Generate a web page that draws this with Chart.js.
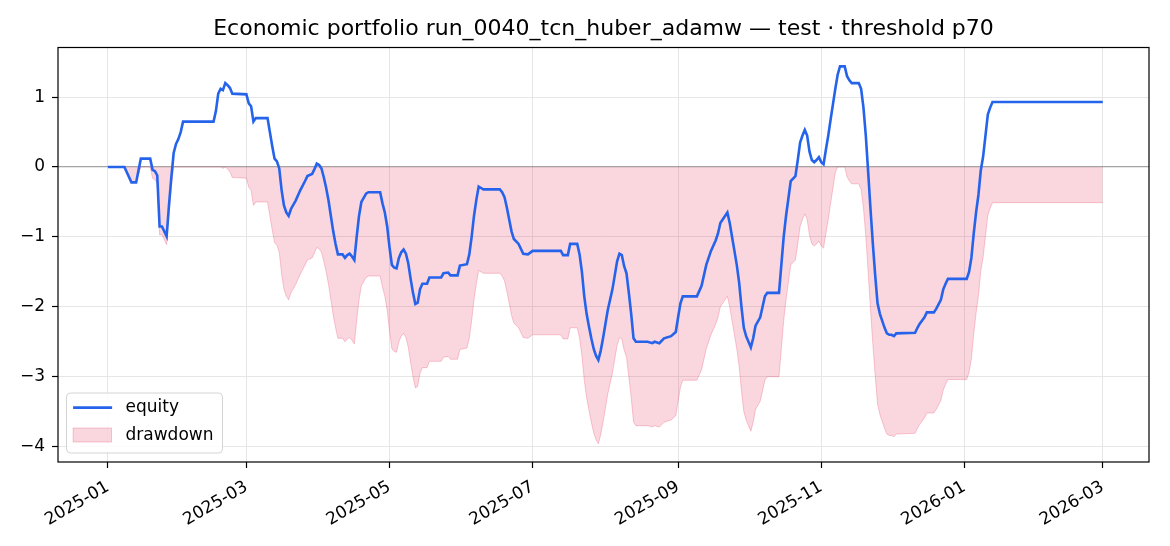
<!DOCTYPE html>
<html><head><meta charset="utf-8">
<script src="https://cdn.jsdelivr.net/npm/chart.js@4.4.1/dist/chart.umd.min.js"></script>
<style>html,body{margin:0;padding:0;background:#fff}#wrap{width:1170px;height:546px}</style>
</head><body><div id="wrap"><canvas id="c" width="1170" height="546"></canvas></div>
<script>
const titleText = 'Economic portfolio run_0040_tcn_huber_adamw \u2014 test \u00b7 threshold p70';
const startDate = '2025-01-01';
const seriesLabels = ['equity', 'drawdown'];

// day offsets from startDate
const dayIndex = [
  0,7,10,12,14,18,19,20,21,22,
  23,25,26,27,28,29,30,31,32,45,
  46,47,48,49,50,51,52,53,59,60,
  61,62,63,68,69,70,71,72,73,74,
  75,76,77,78,80,82,84,85,87,88,
  89,90,91,92,93,94,95,96,97,98,
  100,101,102,103,104,105,106,107,108,109,
  110,111,116,117,118,119,120,121,122,123,
  124,125,126,127,128,129,130,131,132,133,
  134,136,137,142,143,145,146,149,150,153,
  154,155,156,157,158,159,160,167,168,169,
  170,171,172,173,175,177,179,181,193,194,
  196,197,200,201,202,203,204,205,206,207,
  208,209,210,211,212,213,214,215,216,217,
  218,219,220,221,222,223,224,225,230,232,
  233,235,237,240,242,243,244,245,251,253,
  255,257,259,260,261,263,264,265,266,267,
  268,269,270,271,272,274,275,276,278,279,
  280,281,286,287,288,289,290,291,293,294,
  295,296,297,298,299,300,301,302,303,304,
  305,306,307,308,309,310,311,312,314,315,
  316,317,320,321,322,323,324,325,326,327,
  328,329,330,331,332,333,334,335,336,344,
  345,346,348,349,352,353,355,356,357,358,
  366,367,368,369,370,371,372,373,374,375,
  376,377,424
];

const equity = [
  0,0,-0.22,-0.22,0.12,0.12,-0.04,-0.06,-0.12,-0.85,
  -0.85,-0.99,-0.55,-0.15,0.2,0.33,0.4,0.5,0.65,0.65,
  0.8,1.05,1.12,1.1,1.2,1.17,1.13,1.05,1.04,0.91,
  0.87,0.65,0.7,0.7,0.5,0.3,0.12,0.08,-0.02,-0.33,
  -0.55,-0.65,-0.7,-0.6,-0.48,-0.33,-0.2,-0.13,-0.1,-0.03,
  0.05,0.03,-0.02,-0.15,-0.3,-0.48,-0.7,-0.92,-1.1,-1.25,
  -1.25,-1.3,-1.26,-1.24,-1.28,-1.33,-1.0,-0.7,-0.5,-0.44,
  -0.38,-0.36,-0.36,-0.52,-0.65,-0.85,-1.15,-1.4,-1.44,-1.45,
  -1.3,-1.22,-1.18,-1.24,-1.38,-1.6,-1.8,-1.96,-1.94,-1.75,
  -1.67,-1.67,-1.58,-1.58,-1.52,-1.51,-1.55,-1.55,-1.41,-1.39,
  -1.25,-1.0,-0.7,-0.47,-0.28,-0.3,-0.32,-0.32,-0.36,-0.43,
  -0.58,-0.75,-0.92,-1.03,-1.1,-1.24,-1.25,-1.2,-1.2,-1.26,
  -1.26,-1.1,-1.1,-1.25,-1.5,-1.85,-2.1,-2.28,-2.45,-2.6,
  -2.7,-2.76,-2.63,-2.45,-2.25,-2.05,-1.9,-1.75,-1.55,-1.35,
  -1.24,-1.26,-1.42,-1.52,-1.8,-2.1,-2.45,-2.5,-2.5,-2.52,
  -2.5,-2.52,-2.45,-2.42,-2.36,-2.15,-1.95,-1.85,-1.85,-1.7,
  -1.4,-1.2,-1.05,-0.95,-0.8,-0.7,-0.65,-0.8,-1.0,-1.2,
  -1.4,-1.65,-2.0,-2.3,-2.42,-2.58,-2.45,-2.27,-2.15,-2.0,
  -1.85,-1.8,-1.8,-1.4,-1.0,-0.7,-0.45,-0.2,-0.13,0.1,
  0.35,0.45,0.53,0.45,0.22,0.1,0.07,0.1,0.14,0.07,
  0.04,0.25,0.45,0.68,0.9,1.12,1.32,1.44,1.44,1.3,
  1.24,1.2,1.2,1.12,0.85,0.45,-0.07,-0.6,-1.1,-1.55,
  -1.95,-2.1,-2.2,-2.3,-2.38,-2.4,-2.4,-2.42,-2.38,-2.37,
  -2.3,-2.24,-2.15,-2.08,-2.08,-2.03,-1.9,-1.75,-1.67,-1.6,
  -1.6,-1.5,-1.3,-0.95,-0.65,-0.4,-0.05,0.15,0.45,0.75,
  0.85,0.93,0.93
];

const drawdown = [
  0,0,-0.22,-0.22,0,0,-0.16,-0.18,-0.24,-0.97,
  -0.97,-1.11,-0.67,-0.27,0,0,0,0,0,0,
  0,0,0,-0.02,0,-0.03,-0.07,-0.15,-0.16,-0.29,
  -0.33,-0.55,-0.5,-0.5,-0.7,-0.9,-1.08,-1.12,-1.22,-1.53,
  -1.75,-1.85,-1.9,-1.8,-1.68,-1.53,-1.4,-1.33,-1.3,-1.23,
  -1.15,-1.17,-1.22,-1.35,-1.5,-1.68,-1.9,-2.12,-2.3,-2.45,
  -2.45,-2.5,-2.46,-2.44,-2.48,-2.53,-2.2,-1.9,-1.7,-1.64,
  -1.58,-1.56,-1.56,-1.72,-1.85,-2.05,-2.35,-2.6,-2.64,-2.65,
  -2.5,-2.42,-2.38,-2.44,-2.58,-2.8,-3.0,-3.16,-3.14,-2.95,
  -2.87,-2.87,-2.78,-2.78,-2.72,-2.71,-2.75,-2.75,-2.61,-2.59,
  -2.45,-2.2,-1.9,-1.67,-1.48,-1.5,-1.52,-1.52,-1.56,-1.63,
  -1.78,-1.95,-2.12,-2.23,-2.3,-2.44,-2.45,-2.4,-2.4,-2.46,
  -2.46,-2.3,-2.3,-2.45,-2.7,-3.05,-3.3,-3.48,-3.65,-3.8,
  -3.9,-3.96,-3.83,-3.65,-3.45,-3.25,-3.1,-2.95,-2.75,-2.55,
  -2.44,-2.46,-2.62,-2.72,-3.0,-3.3,-3.65,-3.7,-3.7,-3.72,
  -3.7,-3.72,-3.65,-3.62,-3.56,-3.35,-3.15,-3.05,-3.05,-2.9,
  -2.6,-2.4,-2.25,-2.15,-2.0,-1.9,-1.85,-2.0,-2.2,-2.4,
  -2.6,-2.85,-3.2,-3.5,-3.62,-3.78,-3.65,-3.47,-3.35,-3.2,
  -3.05,-3.0,-3.0,-2.6,-2.2,-1.9,-1.65,-1.4,-1.33,-1.1,
  -0.85,-0.75,-0.67,-0.75,-0.98,-1.1,-1.13,-1.1,-1.06,-1.13,
  -1.16,-0.95,-0.75,-0.52,-0.3,-0.08,0,0,0,-0.14,
  -0.2,-0.24,-0.24,-0.32,-0.59,-0.99,-1.51,-2.04,-2.54,-2.99,
  -3.39,-3.54,-3.64,-3.74,-3.82,-3.84,-3.84,-3.86,-3.82,-3.81,
  -3.74,-3.68,-3.59,-3.52,-3.52,-3.47,-3.34,-3.19,-3.11,-3.04,
  -3.04,-2.94,-2.74,-2.39,-2.09,-1.84,-1.49,-1.29,-0.99,-0.69,
  -0.59,-0.51,-0.51
];

const xTickLabels = ['2025-01','2025-03','2025-05','2025-07','2025-09','2025-11','2026-01','2026-03'];
const yTickValues = [-4, -3, -2, -1, 0, 1];
const yTickLabels = ['\u22124', '\u22123', '\u22122', '\u22121', '0', '1'];

function dayOf(label) {
  const [y, m] = label.split('-').map(Number);
  const s = startDate.split('-').map(Number);
  return (Date.UTC(y, m - 1, 1) - Date.UTC(s[0], s[1] - 1, s[2])) / 86400000;
}
const xTickDays = xTickLabels.map(dayOf);

const eqColor = '#2563eb';
const ddFill = 'rgba(225,29,72,0.18)';
const ddEdge = 'rgba(225,29,72,0.22)';

Chart.defaults.font.family = '"DejaVu Sans", sans-serif';
Chart.defaults.color = '#000';

const framePlugin = {
  id: 'frame',
  beforeDraw(chart) {
    const ctx = chart.ctx;
    ctx.save();
    ctx.fillStyle = '#fff';
    ctx.fillRect(0, 0, chart.width, chart.height);
    ctx.restore();
  },
  afterDraw(chart) {
    const ctx = chart.ctx, a = chart.chartArea;
    ctx.save();
    // legend
    ctx.font = '17px "DejaVu Sans"';
    const tw = Math.max(...seriesLabels.map(t => ctx.measureText(t).width));
    const bw = 59 + tw + 9, bh = 60;
    const bx = a.left + 8.5, by = a.bottom - 9 - bh;
    ctx.beginPath();
    if (ctx.roundRect) ctx.roundRect(bx, by, bw, bh, 4); else ctx.rect(bx, by, bw, bh);
    ctx.fillStyle = 'rgba(255,255,255,0.85)';
    ctx.fill();
    ctx.strokeStyle = '#d4d4d4';
    ctx.lineWidth = 1;
    ctx.stroke();
    const ds = chart.data.datasets;
    ctx.strokeStyle = ds[0].borderColor;
    ctx.lineWidth = ds[0].borderWidth;
    ctx.beginPath();
    ctx.moveTo(bx + 6.6, by + 14.6);
    ctx.lineTo(bx + 45.6, by + 14.6);
    ctx.stroke();
    ctx.fillStyle = ds[1].backgroundColor;
    ctx.fillRect(bx + 6.6, by + 35, 38.4, 14);
    ctx.strokeStyle = ds[1].borderColor;
    ctx.lineWidth = 1;
    ctx.strokeRect(bx + 6.6, by + 35, 38.4, 14);
    ctx.fillStyle = '#000';
    ctx.textBaseline = 'middle';
    ctx.textAlign = 'left';
    ctx.fillText(ds[0].label, bx + 59, by + 15);
    ctx.fillText(ds[1].label, bx + 59, by + 42.5);
    // spines
    ctx.strokeStyle = '#000';
    ctx.lineWidth = 1.2;
    ctx.strokeRect(a.left, a.top, a.right - a.left, a.bottom - a.top);
    ctx.restore();
  }
};

new Chart(document.getElementById('c'), {
  type: 'line',
  data: {
    datasets: [
      {
        label: seriesLabels[0],
        data: dayIndex.map((d, i) => ({ x: d, y: equity[i] })),
        borderColor: eqColor,
        backgroundColor: eqColor,
        borderWidth: 2.6,
        pointRadius: 0,
        tension: 0,
        fill: false
      },
      {
        label: seriesLabels[1],
        data: dayIndex.map((d, i) => ({ x: d, y: drawdown[i] })),
        borderColor: ddEdge,
        backgroundColor: ddFill,
        borderWidth: 1,
        pointRadius: 0,
        tension: 0,
        fill: 'origin'
      }
    ]
  },
  options: {
    responsive: false,
    animation: false,
    devicePixelRatio: 1,
    layout: { padding: { left: 0, right: 21, top: 0, bottom: 0 } },
    plugins: {
      legend: { display: false },
      tooltip: { enabled: false },
      title: {
        display: true, text: titleText, color: '#000', fullSize: false,
        font: { size: 22, weight: 'normal' },
        padding: { top: 16.5, bottom: 4.6 }
      }
    },
    scales: {
      x: {
        type: 'linear', min: -21.3, max: 443.7,
        afterBuildTicks: s => { s.ticks = xTickDays.map(v => ({ value: v })); },
        afterFit: s => { s.height = 84; },
        ticks: {
          autoSkip: false, minRotation: 30, maxRotation: 30, color: '#000',
          font: { size: 17 }, padding: 9, labelOffset: 0,
          callback: (v, i) => xTickLabels[i]
        },
        grid: { color: '#e6e6e6', lineWidth: 1, drawTicks: true, tickColor: '#000', tickLength: 6, tickWidth: 1.2 },
        border: { display: false }
      },
      y: {
        min: -4.22, max: 1.71,
        afterBuildTicks: s => { s.ticks = yTickValues.map(v => ({ value: v })); },
        afterFit: s => { s.width = 58; },
        ticks: {
          color: '#000', font: { size: 17 }, padding: 7,
          callback: (v, i) => yTickLabels[i]
        },
        grid: {
          color: ctx => (ctx.tick && ctx.tick.value === 0) ? 'rgba(90,90,90,0.55)' : '#e6e6e6',
          lineWidth: ctx => (ctx.tick && ctx.tick.value === 0) ? 1.2 : 1,
          drawTicks: true, tickColor: '#000', tickLength: 6, tickWidth: 1.2
        },
        border: { display: false }
      }
    }
  },
  plugins: [framePlugin]
});
</script>
</body></html>
